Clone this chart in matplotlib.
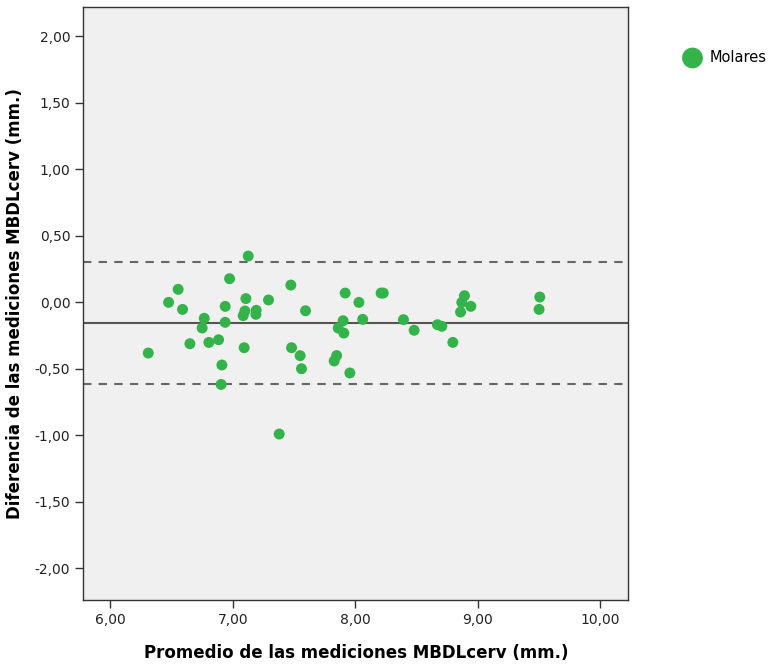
import matplotlib
matplotlib.use('Agg')
import matplotlib.pyplot as plt
from matplotlib.ticker import FuncFormatter

# average of the two measurements (mm) and their difference (mm)
promedio = [7.125, 6.973, 6.553, 7.473, 6.475, 6.589, 7.106, 7.291, 6.937, 7.098,
            7.084, 7.190, 7.188, 7.593, 6.766, 6.749, 6.937, 6.309, 6.649, 6.804,
            6.883, 7.092, 7.479, 7.549, 7.560, 6.910, 6.904, 7.917, 8.029, 8.210,
            8.228, 7.900, 7.860, 7.906, 8.060, 7.847, 7.827, 7.955, 8.393, 8.480,
            8.670, 8.706, 8.796, 8.891, 8.869, 8.943, 8.859, 9.506, 9.500, 7.378]
diferencia = [0.348, 0.178, 0.098, 0.130, 0.000, -0.053, 0.028, 0.018, -0.030, -0.065,
              -0.100, -0.060, -0.090, -0.063, -0.120, -0.193, -0.150, -0.381, -0.311, -0.301,
              -0.281, -0.341, -0.341, -0.401, -0.499, -0.471, -0.617, 0.070, 0.000, 0.070,
              0.070, -0.138, -0.193, -0.231, -0.128, -0.400, -0.441, -0.531, -0.130, -0.210,
              -0.168, -0.180, -0.301, 0.050, 0.000, -0.030, -0.073, 0.040, -0.053, -0.990]

media = -0.158
lim_sup = 0.30
lim_inf = -0.615

verde = '#34b34a'

fig = plt.figure(figsize=(7.73, 6.67), dpi=100)
ax = fig.add_axes([0.108, 0.100, 0.705, 0.889])
ax.set_facecolor('#f0f0f0')

ax.axhline(media, color='#555555', lw=1.5, zorder=1)
ax.axhline(lim_sup, color='#666666', lw=1.5, ls=(0, (4, 3.5)), zorder=1)
ax.axhline(lim_inf, color='#666666', lw=1.5, ls=(0, (4, 3.5)), zorder=1)

ax.scatter(promedio, diferencia, s=62, color=verde, edgecolors='none', zorder=3, label='Molares')

ax.set_xlim(5.78, 10.23)
ax.set_ylim(-2.24, 2.218)
ax.set_xticks([6, 7, 8, 9, 10])
ax.set_yticks([-2, -1.5, -1, -0.5, 0, 0.5, 1, 1.5, 2])
coma = FuncFormatter(lambda v, p: f'{v:.2f}'.replace('.', ','))
ax.xaxis.set_major_formatter(coma)
ax.yaxis.set_major_formatter(coma)
ax.tick_params(direction='out', length=6, width=1, color='#333333', labelsize=10, labelcolor='#222222')

for s in ax.spines.values():
    s.set_color('#333333')
    s.set_linewidth(1)

ax.set_xlabel('Promedio de las mediciones MBDLcerv (mm.)', fontsize=12, fontweight='bold', labelpad=12)
ax.set_ylabel('Diferencia de las mediciones MBDLcerv (mm.)', fontsize=12, fontweight='bold', labelpad=8)

leg = fig.legend(loc='upper left', bbox_to_anchor=(0.86, 0.945), frameon=False,
                 markerscale=1.9, handletextpad=0.2, fontsize=10.5)

fig.savefig('out.png', dpi=100)
